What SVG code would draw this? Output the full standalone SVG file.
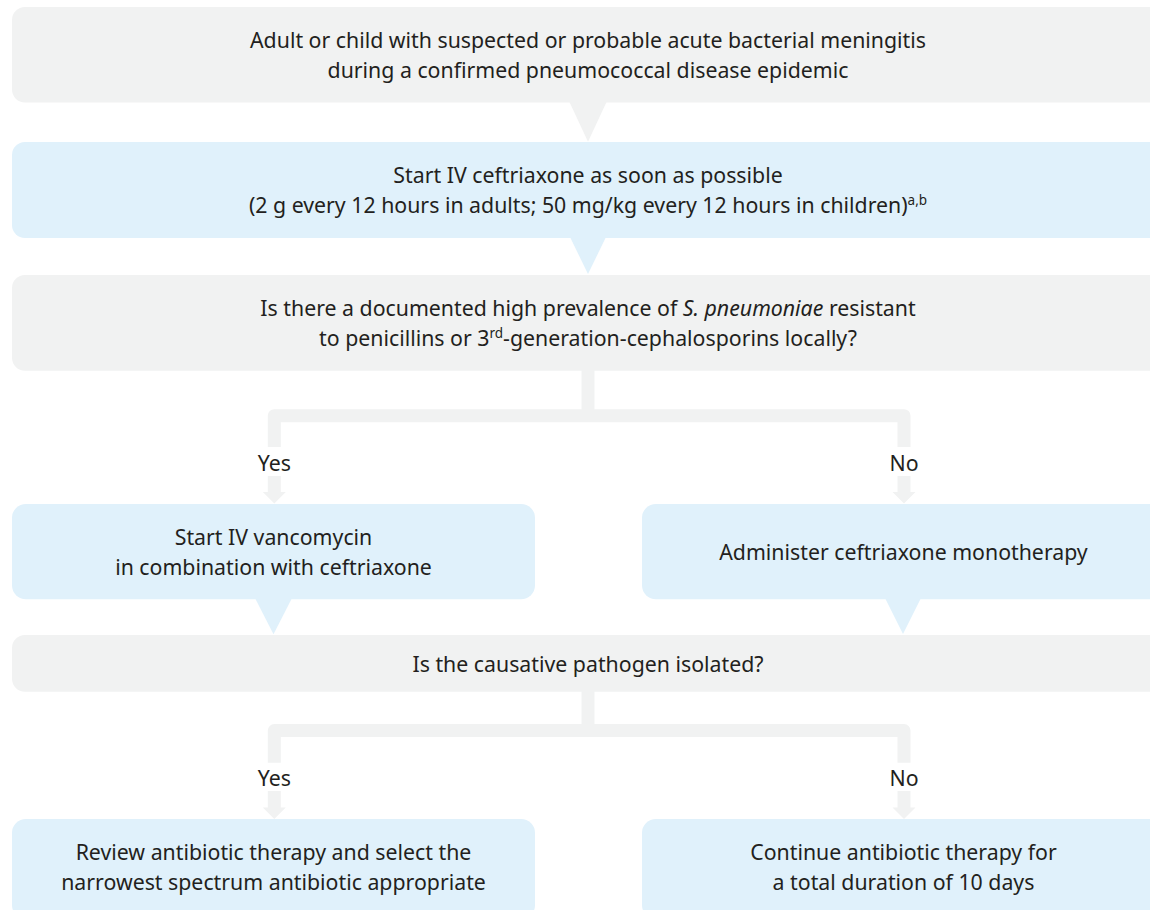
<svg xmlns="http://www.w3.org/2000/svg" width="1150" height="910" viewBox="0 0 1150 910">
<style>
.g{fill:#F1F2F2}
.b{fill:#E0F1FB}
.t{font-family:"Noto Sans","Liberation Sans",sans-serif;font-size:21.3px;fill:#231F20;text-anchor:middle}
.sup{font-size:13.5px}
.c{fill:none;stroke:#F1F2F2;stroke-width:13;stroke-linejoin:round}
.h{fill:#F1F2F2}
</style>
<rect width="1150" height="910" fill="#ffffff"/>
<g id="connectors">
<path class="c" d="M588,370 V416"/>
<path class="c" d="M274.3,447 V415.7 H904 V447"/>
<path class="c" d="M274.3,476 V493"/>
<polygon class="h" points="262.8,492 285.8,492 274.3,503.5"/>
<path class="c" d="M904,476 V493"/>
<polygon class="h" points="892.5,492 915.5,492 904,503.5"/>
<path class="c" d="M588,691 V731"/>
<path class="c" d="M274.3,762.7 V730.5 H904 V762.7"/>
<path class="c" d="M274.3,791 V808"/>
<polygon class="h" points="262.8,807.5 285.8,807.5 274.3,819"/>
<path class="c" d="M904,791 V808"/>
<polygon class="h" points="892.5,807.5 915.5,807.5 904,819"/>
</g>
<g id="n1">
<rect class="g" x="12" y="7" width="1153" height="95.5" rx="13"/>
<polygon class="g" points="569,101 607,101 588,141.7"/>
<text class="t" x="588" y="48">Adult or child with suspected or probable acute bacterial meningitis</text>
<text class="t" x="588" y="78">during a confirmed pneumococcal disease epidemic</text>
</g>
<g id="n2">
<rect class="b" x="12" y="142" width="1153" height="96" rx="13"/>
<polygon class="b" points="570,237 606,237 588,274"/>
<text class="t" x="588" y="183">Start IV ceftriaxone as soon as possible</text>
<text class="t" x="588" y="213">(2 g every 12 hours in adults; 50 mg/kg every 12 hours in children)<tspan class="sup" dy="-8">a,b</tspan></text>
</g>
<g id="n3">
<rect class="g" x="12" y="275" width="1153" height="95.7" rx="13"/>
<text class="t" x="588" y="316">Is there a documented high prevalence of <tspan font-style="italic">S. pneumoniae</tspan> resistant</text>
<text class="t" x="588" y="346">to penicillins or 3<tspan class="sup" dy="-8">rd</tspan><tspan dy="8">-generation-cephalosporins locally?</tspan></text>
</g>
<g id="yes1"><text class="t" x="274.3" y="470.7">Yes</text></g>
<g id="no1"><text class="t" x="904" y="470.7">No</text></g>
<g id="n4">
<rect class="b" x="12" y="504" width="523" height="95.3" rx="14"/>
<polygon class="b" points="255,598 292,598 273.5,634.3"/>
<text class="t" x="273.5" y="545">Start IV vancomycin</text>
<text class="t" x="273.5" y="575">in combination with ceftriaxone</text>
</g>
<g id="n5">
<rect class="b" x="642" y="504" width="523" height="95.3" rx="14"/>
<polygon class="b" points="885,598 921,598 903,634"/>
<text class="t" x="903.5" y="560">Administer ceftriaxone monotherapy</text>
</g>
<g id="n6">
<rect class="g" x="12" y="635" width="1153" height="56.7" rx="13"/>
<text class="t" x="588" y="672">Is the causative pathogen isolated?</text>
</g>
<g id="yes2"><text class="t" x="274.3" y="785.7">Yes</text></g>
<g id="no2"><text class="t" x="904" y="785.7">No</text></g>
<g id="n7">
<rect class="b" x="12" y="819" width="523" height="100" rx="14"/>
<text class="t" x="273.5" y="860">Review antibiotic therapy and select the</text>
<text class="t" x="273.5" y="890">narrowest spectrum antibiotic appropriate</text>
</g>
<g id="n8">
<rect class="b" x="642" y="819" width="523" height="100" rx="14"/>
<text class="t" x="903.5" y="860">Continue antibiotic therapy for</text>
<text class="t" x="903.5" y="890">a total duration of 10 days</text>
</g>
</svg>
